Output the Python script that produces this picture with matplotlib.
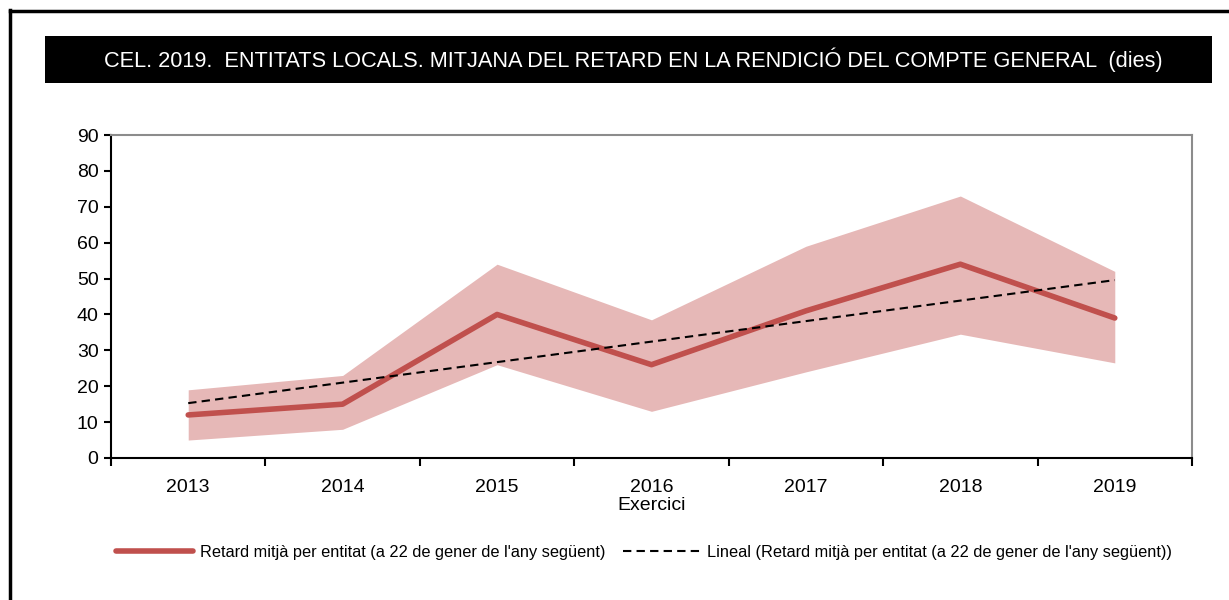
#retard mitja en la rendicio del compte general, entitats locals 2013-2019
#banda ombrejada (min/max aprox.) + mitjana + tendencia lineal

import numpy as np
import matplotlib
matplotlib.use('Agg')
import matplotlib.pyplot as plt
from matplotlib.patches import Rectangle
from matplotlib.lines import Line2D

plt.rcParams['font.family'] = ['Liberation Sans Narrow', 'Liberation Sans', 'DejaVu Sans']

years = ['2013', '2014', '2015', '2016', '2017', '2018', '2019']
retard_mitja = [12, 15, 40, 26, 41, 54, 39]
banda_sup = [19, 23, 54, 38.5, 59, 73, 52]
banda_inf = [5, 8, 26, 13, 24, 34.5, 26.5]

red = '#C0504D'
pink = '#E6B8B7'

fig = plt.figure(figsize=(12.29, 6), dpi=100)

#marc exterior (nomes esquerra i dalt)
fig.add_artist(Line2D([10/1229, 10/1229], [0, 1 - 10/600], color='black', lw=2.5,
                      transform=fig.transFigure))
fig.add_artist(Line2D([10/1229, 1], [1 - 11/600, 1 - 11/600], color='black', lw=2.5,
                      transform=fig.transFigure))

#barra del titol
fig.add_artist(Rectangle((45/1229, 1 - 83/600), 1167/1229, 47/600, facecolor='black',
                         edgecolor='none', transform=fig.transFigure))
fig.text(633/1229, 1 - 60/600,
         'CEL. 2019.  ENTITATS LOCALS. MITJANA DEL RETARD EN LA RENDICIÓ DEL COMPTE GENERAL  (dies)',
         color='white', fontsize=15.7, ha='center', va='center')

ax = fig.add_axes([111/1229, 1 - 458/600, 1081/1229, 323/600])
x = np.arange(len(years))

ax.fill_between(x, banda_inf, banda_sup, color=pink, lw=0, zorder=1)
ax.plot(x, retard_mitja, color=red, lw=4, solid_capstyle='round', zorder=3,
        label="Retard mitjà per entitat (a 22 de gener de l'any següent)")

#tendencia lineal
coef = np.polyfit(x, retard_mitja, 1)
ax.plot(x, np.polyval(coef, x), color='black', lw=1.5, ls=(0, (4, 2.5)), zorder=4,
        label="Lineal (Retard mitjà per entitat (a 22 de gener de l'any següent))")

ax.set_xlim(-0.5, 6.5)
ax.set_ylim(0, 90)
ax.set_yticks(range(0, 91, 10))
ax.set_xticks(x)
ax.set_xticklabels(years)
ax.set_xticks(np.arange(-0.5, 7, 1), minor=True)
ax.tick_params(axis='x', which='major', length=0, labelsize=14, pad=15)
ax.tick_params(axis='x', which='minor', length=6, width=1.5, direction='out')
ax.tick_params(axis='y', length=5, width=1.5, labelsize=14, pad=4)
ax.set_xlabel('Exercici', fontsize=14, labelpad=1)

for s in ['left', 'bottom']:
    ax.spines[s].set_color('black')
    ax.spines[s].set_linewidth(1.5)
for s in ['top', 'right']:
    ax.spines[s].set_color('#8c8c8c')
    ax.spines[s].set_linewidth(1.5)

fig.legend(loc='center', bbox_to_anchor=(644/1229, 1 - 552/600), ncol=2, frameon=False,
           fontsize=11.8, handlelength=4.7, columnspacing=1.1, handletextpad=0.4)

fig.savefig('out.png', dpi=100)
